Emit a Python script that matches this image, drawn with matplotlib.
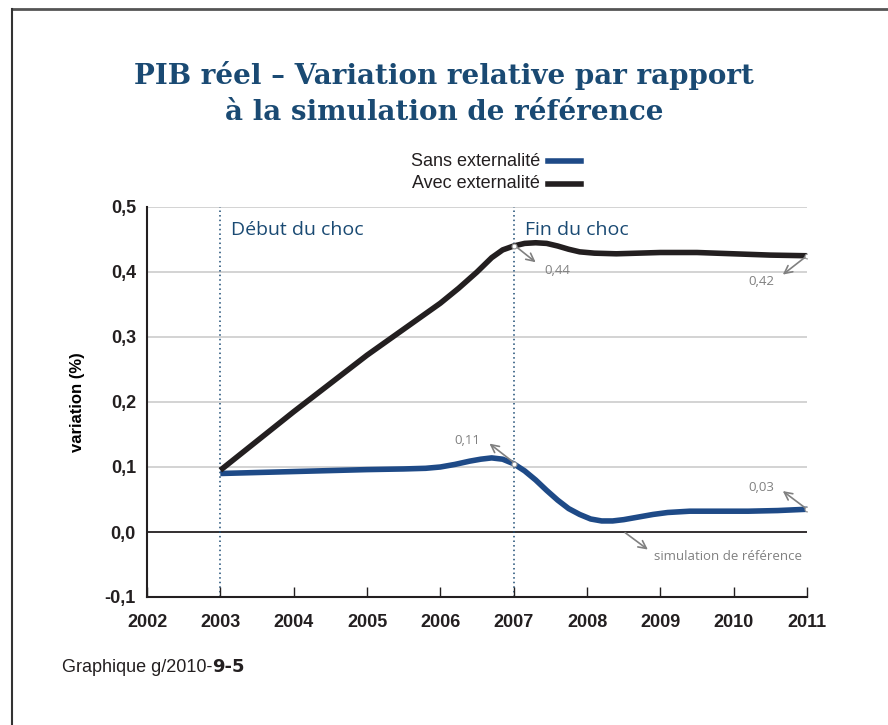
import matplotlib
matplotlib.use('Agg')
import matplotlib.pyplot as plt
from matplotlib.lines import Line2D

# valeurs
years = list(range(2002, 2012))
y_ticks = [-0.1, 0.0, 0.1, 0.2, 0.3, 0.4, 0.5]
y_tick_labels = ['-0,1', '0,0', '0,1', '0,2', '0,3', '0,4', '0,5']

sans_x = [2003.0, 2004.0, 2005.0, 2005.5, 2005.8, 2006.0, 2006.2, 2006.4, 2006.55, 2006.7,
          2006.85, 2007.0, 2007.15, 2007.3, 2007.45, 2007.6, 2007.75, 2007.9, 2008.05, 2008.2,
          2008.35, 2008.5, 2008.7, 2008.9, 2009.1, 2009.4, 2009.8, 2010.2, 2010.6, 2011.0]
sans_y = [0.090, 0.093, 0.096, 0.097, 0.098, 0.100, 0.104, 0.109, 0.112, 0.114,
          0.112, 0.105, 0.094, 0.080, 0.064, 0.049, 0.036, 0.027, 0.020, 0.017,
          0.017, 0.019, 0.023, 0.027, 0.030, 0.032, 0.032, 0.032, 0.033, 0.035]

avec_x = [2003.0, 2004.0, 2005.0, 2006.0, 2006.25, 2006.5, 2006.7, 2006.85, 2007.0, 2007.15,
          2007.3, 2007.45, 2007.6, 2007.75, 2007.9, 2008.1, 2008.4, 2008.7, 2009.0, 2009.5,
          2010.0, 2010.5, 2011.0]
avec_y = [0.095, 0.185, 0.272, 0.352, 0.375, 0.400, 0.422, 0.434, 0.440, 0.444,
          0.445, 0.444, 0.440, 0.435, 0.431, 0.429, 0.428, 0.429, 0.430, 0.430,
          0.428, 0.426, 0.425]

choc_debut = 2003
choc_fin = 2007

BLUE = '#1e4a87'
BLACK = '#231f20'
NAVY = '#1a4a73'
GREY = '#808080'
NARROW = ['Liberation Sans Narrow', 'Liberation Sans', 'DejaVu Sans']

fig = plt.figure(figsize=(8.88, 7.25), dpi=100)

# cadre de la page
fig.add_artist(Line2D([12/888, 1], [1-9/725, 1-9/725], color='#555555', lw=2))
fig.add_artist(Line2D([12/888, 12/888], [0, 1-9/725], color='#333333', lw=1.5))

ax = fig.add_axes([147/888, 1-597/725, 660/888, 390/725])
ax.set_xlim(2002, 2011)
ax.set_ylim(-0.1, 0.5)

for v in [0.1, 0.2, 0.3, 0.4, 0.5]:
    ax.axhline(v, color='#cccccc', lw=1.2, zorder=0)
ax.axhline(0, color=BLACK, lw=1.3, zorder=1)

for x in [choc_debut, choc_fin]:
    ax.axvline(x, color=NAVY, lw=1.1, ls=(0, (1, 2)), zorder=1)

ax.plot(sans_x, sans_y, color=BLUE, lw=4, solid_capstyle='butt', solid_joinstyle='round', zorder=3)
ax.plot(avec_x, avec_y, color=BLACK, lw=4, solid_capstyle='butt', solid_joinstyle='round', zorder=3)

for sp in ['top', 'right']:
    ax.spines[sp].set_visible(False)
ax.spines['left'].set_color(BLACK)
ax.spines['bottom'].set_color(BLACK)
ax.spines['left'].set_linewidth(1.5)
ax.spines['bottom'].set_linewidth(1.5)

ax.set_xticks(years)
ax.set_xticklabels([str(y) for y in years], fontweight='bold', fontsize=13, family=NARROW, color=BLACK)
ax.tick_params(axis='x', direction='in', length=7, width=1, color=BLACK, pad=12)
ax.set_yticks(y_ticks)
ax.set_yticklabels(y_tick_labels, fontweight='bold', fontsize=13, family=NARROW, color=BLACK)
ax.tick_params(axis='y', length=0, pad=8)
ax.set_ylabel('variation (%)', fontweight='bold', fontsize=12, family=NARROW, labelpad=14)

ax.text(2003.15, 0.465, 'Début du choc', color=NAVY, fontsize=14, family='Open Sans', va='center')
ax.text(2007.15, 0.465, 'Fin du choc', color=NAVY, fontsize=14, family='Open Sans', va='center')

# annotations
arrow = dict(arrowstyle='->', color=GREY, lw=1.2, shrinkA=0, shrinkB=0, mutation_scale=14)
ann = dict(color=GREY, fontsize=9.5, family='Open Sans')
ax.annotate('', xy=(2007.3, 0.415), xytext=(2007.0, 0.442), arrowprops=arrow)
ax.text(2007.42, 0.403, '0,44', ha='left', va='center', **ann)
ax.annotate('', xy=(2010.67, 0.396), xytext=(2011.0, 0.425), arrowprops=arrow)
ax.text(2010.55, 0.385, '0,42', ha='right', va='center', **ann)
ax.annotate('', xy=(2006.67, 0.136), xytext=(2007.0, 0.107), arrowprops=arrow)
ax.text(2006.55, 0.140, '0,11', ha='right', va='center', **ann)
ax.annotate('', xy=(2010.67, 0.063), xytext=(2011.0, 0.035), arrowprops=arrow)
ax.text(2010.55, 0.068, '0,03', ha='right', va='center', **ann)
ax.annotate('', xy=(2008.83, -0.027), xytext=(2008.52, -0.001), arrowprops=arrow)
ax.text(2008.92, -0.038, 'simulation de référence', ha='left', va='center', **ann)

for x, y in [(2007, 0.440), (2011, 0.425), (2007, 0.105), (2011, 0.035)]:
    ax.plot(x, y, 'o', ms=3.5, mfc='white', mec='#999999', mew=0.8, zorder=4)

# titre
fig.text(0.5, 1-75/725, 'PIB réel – Variation relative par rapport', ha='center', va='center',
         fontsize=20, fontweight='bold', family='DejaVu Serif', color=NAVY)
fig.text(0.5, 1-113/725, 'à la simulation de référence', ha='center', va='center',
         fontsize=20, fontweight='bold', family='DejaVu Serif', color=NAVY)

# légende
fig.text(540/888, 1-161/725, 'Sans externalité', ha='right', va='center', fontsize=13, family=NARROW, color=BLACK)
fig.text(540/888, 1-184/725, 'Avec externalité', ha='right', va='center', fontsize=13, family=NARROW, color=BLACK)
fig.add_artist(Line2D([548/888, 581/888], [1-161/725, 1-161/725], color=BLUE, lw=4))
fig.add_artist(Line2D([548/888, 581/888], [1-184/725, 1-184/725], color=BLACK, lw=4))

# source
src = fig.text(62/888, 1-667/725, 'Graphique g/2010-', ha='left', va='center', fontsize=13, family=NARROW, color=BLACK)
fig.canvas.draw()
bb = src.get_window_extent()
fig.text(bb.x1/888, 1-667/725, '9-5', ha='left', va='center', fontsize=13, fontweight='black',
         family='DejaVu Sans', color=BLACK)

fig.savefig('out.png', dpi=100)
